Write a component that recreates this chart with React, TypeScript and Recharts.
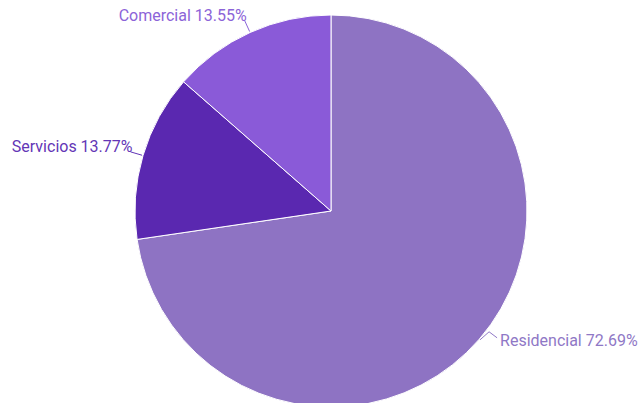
import { PieChart, Pie, Cell } from 'recharts'

const sectors = ['Residencial', 'Servicios', 'Comercial']
const shares = [72.69, 13.77, 13.55]
const sliceColors = ['#8e73c3', '#5a28b0', '#8a5ad8']
const labelColors = ['#8f78c6', '#6336b6', '#8c64d8']

const data = sectors.map((name, i) => ({ name, value: shares[i] }))

const RAD = Math.PI / 180

function renderLabel(props: any) {
  const { cx, cy, midAngle, outerRadius, index, name, value } = props
  const cos = Math.cos(-midAngle * RAD)
  const sin = Math.sin(-midAngle * RAD)
  const right = cos >= 0
  const sx = cx + (outerRadius + 1) * cos
  const sy = cy + (outerRadius + 1) * sin
  const color = labelColors[index]
  const text = `${name} ${value.toFixed(2)}%`
  const font = { fill: color, fontSize: 16, fontFamily: 'Roboto, sans-serif' }

  if (right) {
    const mx = sx + 9
    const my = sy - 8
    const ex = mx + 8
    const ey = my + 6
    return (
      <g>
        <polyline points={`${sx},${sy} ${mx},${my} ${ex},${ey}`} fill="none" stroke={color} strokeWidth={1} />
        <text x={ex + 3} y={sy + 1} textAnchor="start" dominantBaseline="central" {...font}>
          {text}
        </text>
      </g>
    )
  }

  const ex = cx + (outerRadius + 13) * cos
  const ey = cy + (outerRadius + 13) * sin
  return (
    <g>
      <polyline points={`${sx},${sy} ${ex},${ey}`} fill="none" stroke={color} strokeWidth={1} />
      <text x={ex + 2} y={ey - 5} textAnchor="end" dominantBaseline="central" {...font}>
        {text}
      </text>
    </g>
  )
}

export default function App() {
  return (
    <div style={{ position: 'absolute', left: 0, top: 0, background: '#fff' }}>
      <PieChart width={638} height={403} margin={{ top: 0, right: 0, bottom: 0, left: 0 }}>
        <Pie
          data={data}
          dataKey="value"
          nameKey="name"
          cx={331}
          cy={211}
          outerRadius={196}
          startAngle={90}
          endAngle={-270}
          stroke="#ffffff"
          strokeWidth={1}
          label={renderLabel}
          labelLine={false}
          isAnimationActive={false}
        >
          {data.map((d, i) => (
            <Cell key={d.name} fill={sliceColors[i]} />
          ))}
        </Pie>
      </PieChart>
    </div>
  )
}
